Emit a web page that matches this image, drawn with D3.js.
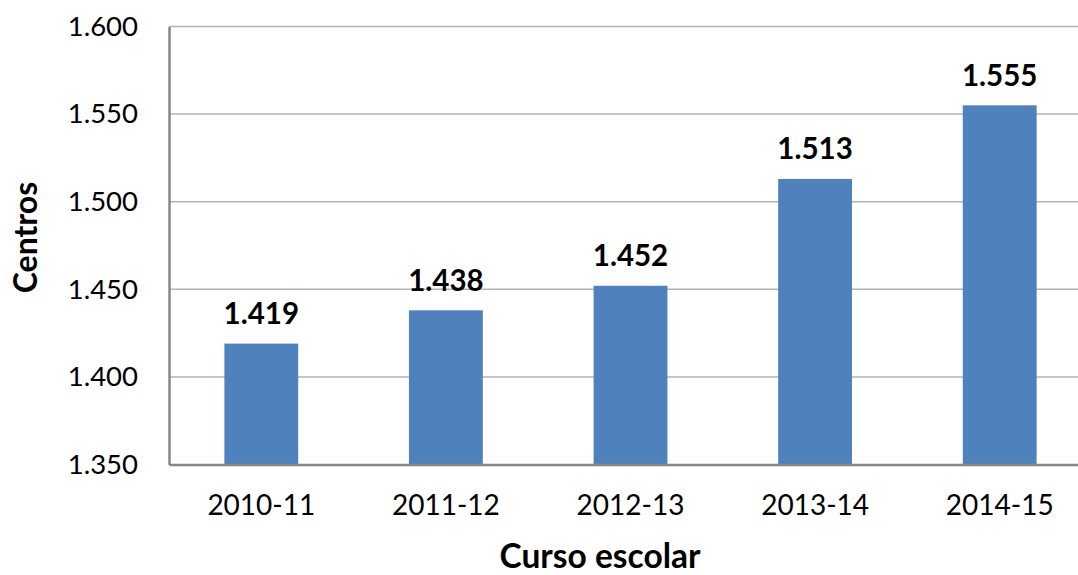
<!DOCTYPE html>
<html>
<head>
<meta charset="utf-8">
<script src="https://cdn.jsdelivr.net/npm/d3@7"></script>
<style>
  body { margin: 0; background: #fff; }
  svg { display: block; font-family: Lato, "Open Sans", sans-serif; }
</style>
</head>
<body>
<div id="chart"></div>
<script>
// Centros por curso escolar
const cursos = ["2010-11", "2011-12", "2012-13", "2013-14", "2014-15"];
const centros = [1419, 1438, 1452, 1513, 1555];
const yTicks = [1350, 1400, 1450, 1500, 1550, 1600];

const width = 1078;
const height = 575;
const margin = { top: 26.5, left: 169, bottom: 110.5 };
// plot area runs past the right edge of the picture, like the original
const plotRight = 1092;

const fmt = d3.formatLocale({ decimal: ",", thousands: ".", grouping: [3], currency: ["", "€"] }).format(",d");

const svg = d3.select("#chart")
    .append("svg")
    .attr("width", width)
    .attr("height", height);

const x = d3.scaleBand()
    .domain(cursos)
    .range([margin.left, plotRight])
    .paddingInner(0.6)
    .paddingOuter(0.3);

const y = d3.scaleLinear()
    .domain([1350, 1600])
    .range([height - margin.bottom, margin.top]);

// gridlines
svg.append("g")
    .selectAll("line")
    .data(yTicks.slice(1))
    .enter()
    .append("line")
    .attr("x1", margin.left)
    .attr("x2", plotRight)
    .attr("y1", d => y(d))
    .attr("y2", d => y(d))
    .attr("stroke", "#b3b3b3")
    .attr("stroke-width", 1.5);

const data = cursos.map((c, i) => ({ curso: c, valor: centros[i] }));

// bars
svg.append("g")
    .selectAll("rect")
    .data(data)
    .enter()
    .append("rect")
    .attr("x", d => x(d.curso))
    .attr("y", d => y(d.valor))
    .attr("width", x.bandwidth())
    .attr("height", d => y(1350) - y(d.valor))
    .attr("fill", "#4f81bd");

// value labels
svg.append("g")
    .selectAll("text")
    .data(data)
    .enter()
    .append("text")
    .attr("x", d => x(d.curso) + x.bandwidth() / 2)
    .attr("y", d => y(d.valor) - 19.5)
    .attr("text-anchor", "middle")
    .attr("font-size", 29.5)
    .attr("font-weight", "bold")
    .attr("fill", "#000")
    .text(d => fmt(d.valor));

// y axis
const yAxis = svg.append("g")
    .attr("transform", `translate(${margin.left}, 0)`)
    .call(d3.axisLeft(y).tickValues(yTicks).tickFormat(fmt).tickSize(0).tickPadding(31));
yAxis.select(".domain").attr("stroke", "#868686").attr("stroke-width", 2.5);
yAxis.selectAll("text").attr("font-size", 27.5).attr("font-family", "Lato").attr("fill", "#000");

// x axis
const xAxis = svg.append("g")
    .attr("transform", `translate(0, ${y(1350)})`)
    .call(d3.axisBottom(x).tickSize(0).tickPadding(31));
xAxis.select(".domain").attr("stroke", "#868686").attr("stroke-width", 2.5);
xAxis.selectAll("text").attr("font-size", 28).attr("font-family", "Lato").attr("fill", "#000");

// axis titles
svg.append("text")
    .attr("transform", `translate(37, 237.5) rotate(-90)`)
    .attr("text-anchor", "middle")
    .attr("font-size", 32)
    .attr("font-weight", "bold")
    .text("Centros");

svg.append("text")
    .attr("x", 600)
    .attr("y", 568)
    .attr("text-anchor", "middle")
    .attr("font-size", 33.5)
    .attr("font-weight", "bold")
    .text("Curso escolar");
</script>
</body>
</html>
